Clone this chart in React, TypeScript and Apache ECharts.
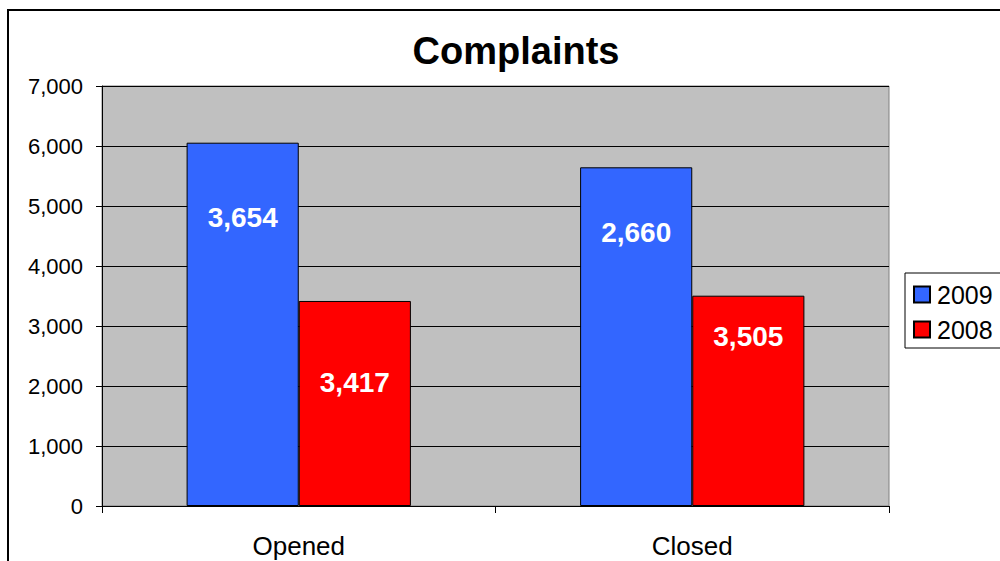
import React, { useEffect, useRef } from "react";
import * as echarts from "echarts";

const categories = ["Opened", "Closed"];
const seriesNames = ["2009", "2008"];
const values2009 = [6055, 5645];
const values2008 = [3417, 3505];
const labels2009 = ["3,654", "2,660"];
const labels2008 = ["3,417", "3,505"];
const yTicks = { min: 0, max: 7000, interval: 1000 };

// label vertical offsets from bar top (styling)
const labelOffsets2009 = [75, 65];
const labelOffsets2008 = [82, 41];

const FONT = "'Liberation Sans', Arial, sans-serif";

export default function App() {
  const ref = useRef<HTMLDivElement>(null);
  useEffect(() => {
    if (!ref.current) return;
    const chart = echarts.init(ref.current, undefined, { renderer: "svg" });
    const mk = (vals: number[], labs: string[], offs: number[]) =>
      vals.map((v, i) => ({
        value: v,
        label: {
          show: true,
          formatter: labs[i],
          position: ["50%", offs[i]],
          align: "center",
          verticalAlign: "middle",
        },
      }));
    const labelStyle = {
      color: "#ffffff",
      fontWeight: "bold",
      fontSize: 28,
      fontFamily: FONT,
    };
    chart.setOption({
      animation: false,
      backgroundColor: "#ffffff",
      textStyle: { fontFamily: FONT },
      title: {
        text: "Complaints",
        left: 511,
        top: 27,
        textAlign: "center",
        textStyle: { fontSize: 38, fontWeight: "bold", color: "#000", fontFamily: FONT },
      },
      graphic: [
        {
          type: "rect",
          shape: { x: 8, y: 10, width: 1010, height: 600 },
          style: { fill: "none", stroke: "#000", lineWidth: 2 },
          silent: true,
        },
      ],
      legend: {
        data: seriesNames,
        orient: "vertical",
        left: 905,
        top: 273,
        padding: [9, 8, 6, 8],
        itemGap: 10,
        itemWidth: 16,
        itemHeight: 16,
        icon: "rect",
        borderColor: "#000",
        borderWidth: 1,
        backgroundColor: "#fff",
        textStyle: { fontSize: 25, color: "#000", fontFamily: FONT, padding: [0, 0, 0, 2] },
      },
      grid: {
        left: 102,
        right: 111,
        top: 86,
        bottom: 55,
        show: true,
        backgroundColor: "#C0C0C0",
        borderColor: "#808080",
        borderWidth: 1,
      },
      xAxis: {
        type: "category",
        data: categories,
        axisLine: { lineStyle: { color: "#000", width: 1 } },
        axisTick: { show: true, length: 7, lineStyle: { color: "#000" } },
        axisLabel: { fontSize: 26, color: "#000", margin: 27, fontFamily: FONT },
      },
      yAxis: {
        type: "value",
        min: yTicks.min,
        max: yTicks.max,
        interval: yTicks.interval,
        axisLine: { show: true, lineStyle: { color: "#000", width: 1 } },
        axisTick: { show: true, length: 6, lineStyle: { color: "#000" } },
        axisLabel: {
          fontSize: 22,
          color: "#000",
          margin: 19,
          fontFamily: FONT,
          formatter: (v: number) => v.toLocaleString("en-US"),
        },
        splitLine: { show: true, lineStyle: { color: "#000", width: 1 } },
      },
      series: [
        {
          name: seriesNames[0],
          type: "bar",
          data: mk(values2009, labels2009, labelOffsets2009),
          barGap: "0%",
          barCategoryGap: "43%",
          itemStyle: { color: "#3366FF", borderColor: "#000", borderWidth: 1 },
          label: labelStyle,
        },
        {
          name: seriesNames[1],
          type: "bar",
          data: mk(values2008, labels2008, labelOffsets2008),
          barGap: "0%",
          barCategoryGap: "43%",
          itemStyle: { color: "#FF0000", borderColor: "#000", borderWidth: 1 },
          label: labelStyle,
        },
      ],
    });
    return () => chart.dispose();
  }, []);
  return (
    <div
      ref={ref}
      style={{ position: "fixed", left: 0, top: 0, width: 1000, height: 561 }}
    />
  );
}
